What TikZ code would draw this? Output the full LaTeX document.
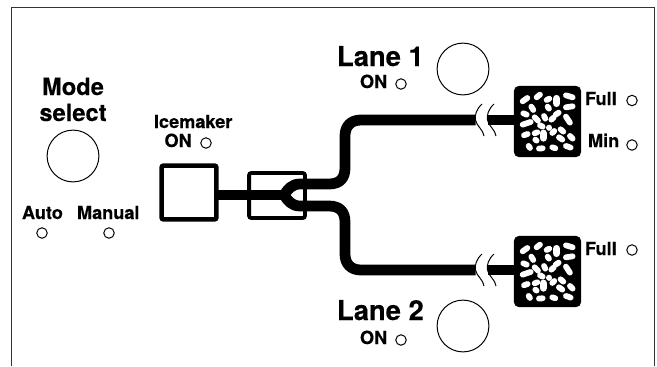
\documentclass[tikz,border=0pt]{standalone}
\usepackage{fontspec}
\setmainfont{TeX Gyre Heros}[BoldFeatures={FakeBold=0.25}]
\tikzset{
  frameline/.style={draw=black!80,line width=1.5},
  knob/.style={circle,draw,line width=1,minimum size=52,inner sep=0,outer sep=0},
  lamp/.style={circle,draw,line width=1,minimum size=10.5,inner sep=0,outer sep=0},
  pipe/.style={line width=10.8,line cap=butt,line join=round},
  unitbox/.style={draw,fill=white,rounded corners=2,inner sep=0,outer sep=0},
  binbox/.style={draw,fill=black,line width=0.5,rounded corners=5,minimum width=67,minimum height=71,inner sep=0,outer sep=0},
  lbl/.style={anchor=base west,inner sep=0,outer sep=0,font=\fontsize{18.2}{20}\selectfont\bfseries},
  biglbl/.style={anchor=base west,inner sep=0,outer sep=0,font=\fontsize{27.5}{30}\selectfont\bfseries},
  modelbl/.style={anchor=base,inner sep=0,outer sep=0,font=\fontsize{23.8}{26}\selectfont\bfseries},
  ice/.style={draw=white,line width=5.8,line cap=round},
  wiggle/.style={draw,line width=1}
}
\newcommand{\icepieces}[2]{%
 \begin{scope}[shift={(#1,#2)},x=0.333bp,y=-0.333bp]
  \foreach \a/\b/\c/\d in {38/58/52/48,80/46/90/38,110/54/118/50,168/40/188/46,40/94/50/98,64/74/70/84,113/74/117/80,168/76/188/73,74/106/84/116,102/102/106/110,137/98/146/92,124/113/131/107,168/104/180/122,38/128/62/120,42/160/53/156,74/154/82/151,127/153/133/147,152/142/160/149,180/162/188/170,56/192/60/198,87/200/98/199,127/196/136/199,168/192/182/197,147/166/157/173,90/130/98/134,118/137/118/138,76/173/80/176}
   \draw[ice] (\a,\b) -- (\c,\d);
  \foreach \a/\b/\c/\d in {140/50/140/64,100/154/100/168}
   \draw[ice,line width=7.5] (\a,\b) -- (\c,\d);
 \end{scope}}
\begin{document}
\begin{tikzpicture}[x=1bp,y=-1bp]
\useasboundingbox (0,0) rectangle (657,366);
\draw[frameline] (11.5,366) -- (11.5,7.5) -- (654.7,7.5) -- (654.7,366);
% knobs
\node[knob] (mode) at (73,156) {};
\node[knob] (lane1k) at (463,69) {};
\node[knob] (lane2k) at (463,326) {};
% lamps
\node[lamp] (auto) at (42,233) {};
\node[lamp] (manual) at (109,233) {};
\node[lamp] (icelamp) at (206,143) {};
\node[lamp] (lane1l) at (401,84) {};
\node[lamp] (lane2l) at (401,340) {};
\node[lamp] (full1) at (632,100.5) {};
\node[lamp] (min1) at (632,145) {};
\node[lamp] (full2) at (632,250) {};
% labels
\node[modelbl] (tmode) at (73,95) {Mode};
\node[modelbl] (tsel) at (73,121) {select};
\node[lbl] (tauto) at (22,219) {Auto};
\node[lbl] (tman) at (77,219) {Manual};
\node[lbl] (tice) at (154,128) {Icemaker};
\node[lbl] (ton) at (164.5,147) {ON};
\node[biglbl] (tl1) at (337,66) {Lane 1};
\node[lbl] (ton1) at (360,88) {ON};
\node[biglbl] (tl2) at (337,320) {Lane 2};
\node[lbl] (ton2) at (360,344) {ON};
\node[lbl] (tf1) at (585,105) {Full};
\node[lbl] (tm1) at (588,147) {Min};
\node[lbl] (tf2) at (585,255) {Full};
% units
\node[unitbox,line width=4.6,minimum width=55,minimum height=54] (maker) at (189,192.5) {};
\node[unitbox,line width=3.8,minimum width=56,minimum height=45] (split) at (277,195.5) {};
\node[binbox] (bin1) at (547.5,121.5) {};
\node[binbox] (bin2) at (547.5,271.5) {};
\icepieces{510}{82}
\icepieces{510}{232}
% breaks
\coordinate (b1l) at (475.5,120);
\coordinate (b1r) at (487.5,120);
\coordinate (b2l) at (475.5,270);
\coordinate (b2r) at (487.5,270);
\coordinate (jn) at (284,195);
% pipes
\draw[pipe] (maker.east |- jn) -- (jn);
\draw[pipe] (jn) .. controls (288,189) and (292,184) .. (300,184) -- (329,184)
  .. controls (340,184) and (345,178) .. (345,168) -- (345,136)
  .. controls (345,126) and (351,120) .. (361,120) -- (b1l);
\draw[pipe] (jn) .. controls (288,201) and (292,206) .. (300,206) -- (329,206)
  .. controls (340,206) and (345,212) .. (345,222) -- (345,254)
  .. controls (345,264) and (351,270) .. (361,270) -- (b2l);
\draw[pipe] (b1r) -- (bin1.west |- b1r);
\draw[pipe] (b2r) -- (bin2.west |- b2r);
% wiggles
\foreach \c in {b1l,b1r,b2l,b2r}{
 \draw[wiggle] ([shift={(6.5,-16)}]\c) .. controls ([shift={(1,-11)}]\c) and ([shift={(-1,-5)}]\c) .. (\c)
   .. controls ([shift={(1,6)}]\c) and ([shift={(8,10)}]\c) .. ([shift={(8.5,16)}]\c);
}
\end{tikzpicture}
\end{document}
